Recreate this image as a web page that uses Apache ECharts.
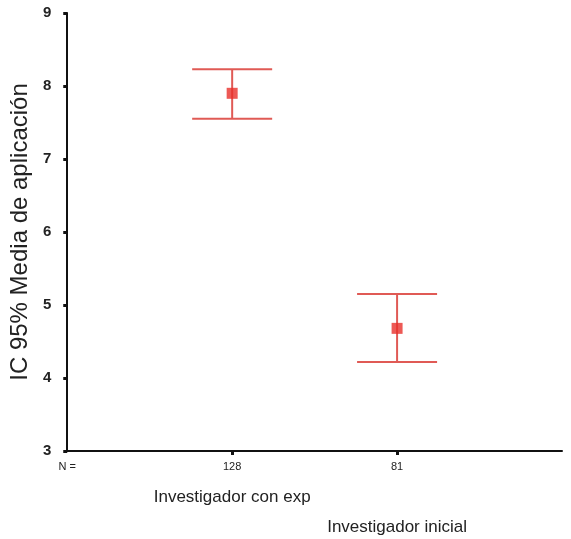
<!DOCTYPE html>
<html><head><meta charset="utf-8">
<script src="https://cdn.jsdelivr.net/npm/echarts@6/dist/echarts.min.js"></script>
<style>html,body{margin:0;padding:0;background:#fff}#c{width:571px;height:539px}</style>
</head><body><div id="c"></div>
<script>
var groups = ['Investigador con exp', 'Investigador inicial'];
var nValues = ['128', '81'];
var means = [7.90, 4.68];
var lower = [7.55, 4.22];
var upper = [8.23, 5.15];
var yTicks = [3, 4, 5, 6, 7, 8, 9];

var chart = echarts.init(document.getElementById('c'));
var red = '#e05a55';
chart.setOption({
  animation: false,
  grid: {left: 67, right: 9, top: 13, bottom: 88},
  xAxis: {
    type: 'value', min: 0, max: 3, interval: 1,
    axisLine: {lineStyle: {color: '#111', width: 2}},
    axisTick: {show: true, length: 4, lineStyle: {color: '#111', width: 3},
      customValues: [1, 2]},
    splitLine: {show: false},
    axisLabel: {
      margin: 9, color: '#222', fontFamily: 'Liberation Sans, Arial',
      customValues: [0, 1, 2],
      formatter: function (v) {
        if (v === 0) return '{n|N =}';
        var i = v - 1;
        if (i === 0) return '{n|' + nValues[i] + '}\n{g|' + groups[i] + '}';
        return '{n|' + nValues[i] + '}\n{s|}\n{g|' + groups[i] + '}';
      },
      rich: {
        n: {fontSize: 11, lineHeight: 14, color: '#222'},
        g: {fontSize: 17, lineHeight: 32, color: '#222', verticalAlign: 'bottom'},
        s: {fontSize: 10, lineHeight: 30}
      }
    }
  },
  yAxis: {
    type: 'value', min: 3, max: 9, interval: 1,
    name: 'IC 95% Media de aplicación', nameLocation: 'middle', nameGap: 34,
    nameTextStyle: {fontSize: 24, color: '#222', fontFamily: 'Liberation Sans, Arial'},
    axisLine: {show: true, lineStyle: {color: '#111', width: 2}},
    axisTick: {show: true, length: 4, lineStyle: {color: '#111', width: 3}},
    splitLine: {show: false},
    axisLabel: {margin: 16, fontSize: 15, fontWeight: 'bold', color: '#222', fontFamily: 'Liberation Sans, Arial',
      customValues: yTicks}
  },
  series: [
    {
      type: 'custom',
      data: groups.map(function (g, i) { return [i + 1, lower[i], upper[i]]; }),
      renderItem: function (params, api) {
        var x = api.value(0);
        var lo = api.coord([x, api.value(1)]);
        var hi = api.coord([x, api.value(2)]);
        var half = 40;
        var st = {stroke: red, lineWidth: 2};
        return {type: 'group', children: [
          {type: 'line', shape: {x1: lo[0], y1: lo[1], x2: hi[0], y2: hi[1]}, style: st},
          {type: 'line', shape: {x1: lo[0] - half, y1: lo[1], x2: lo[0] + half, y2: lo[1]}, style: st},
          {type: 'line', shape: {x1: hi[0] - half, y1: hi[1], x2: hi[0] + half, y2: hi[1]}, style: st}
        ]};
      }
    },
    {
      type: 'scatter', symbol: 'rect', symbolSize: 11,
      itemStyle: {color: '#e8302a'},
      data: means.map(function (m, i) { return [i + 1, m]; }),
      z: 10
    }
  ]
});
</script></body></html>
